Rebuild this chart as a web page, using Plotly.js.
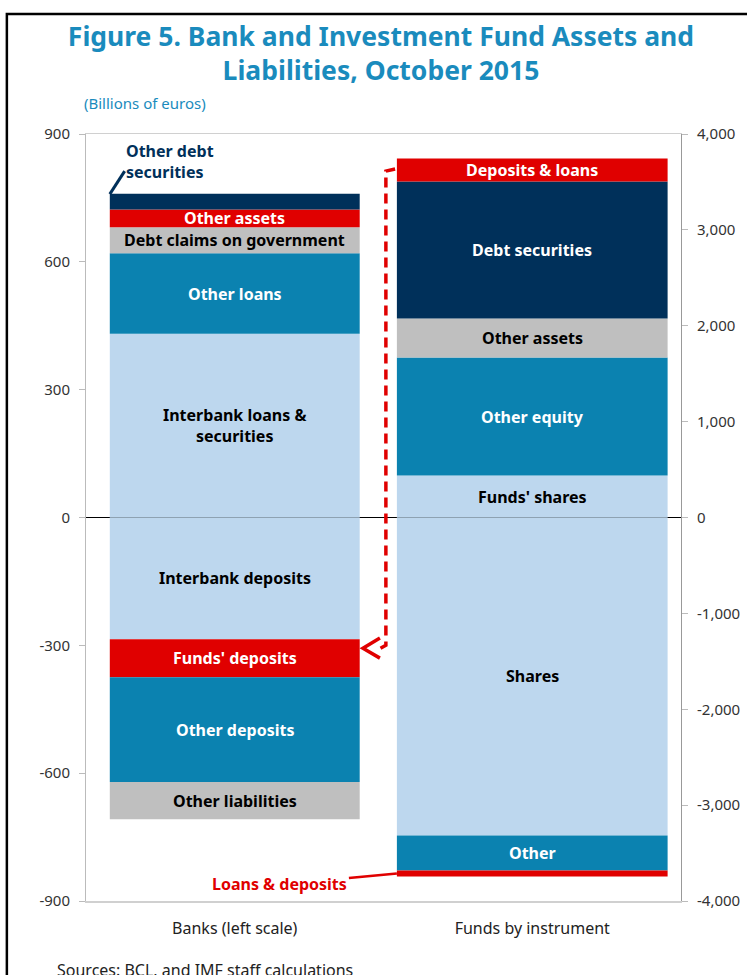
<!DOCTYPE html>
<html>
<head>
<meta charset="utf-8">
<script src="https://cdn.plot.ly/plotly-3.0.1.min.js"></script>
<style>
  body { margin: 0; background: #fff; }
  #chart { width: 747px; height: 975px; }
</style>
</head>
<body>
<div id="chart"></div>
<script>
// categories
var categories = ['Banks (left scale)', 'Funds by instrument'];

// banks, billions of euros (left scale)
var bankItems = ['Interbank loans & securities', 'Other loans', 'Debt claims on government',
                 'Other assets', 'Other debt securities',
                 'Interbank deposits', "Funds' deposits", 'Other deposits', 'Other liabilities'];
var bankValues = [431, 189, 61, 42, 37, -286, -89, -246, -87];

// investment funds, billions of euros (right scale)
var fundItems = ["Funds' shares", 'Other equity', 'Other assets', 'Debt securities', 'Deposits & loans',
                 'Shares', 'Other', 'Loans & deposits'];
var fundValues = [438, 1230, 407, 1429, 240, -3316, -365, -63];

// tick labels
var leftTicks = [-900, -600, -300, 0, 300, 600, 900];
var leftTickText = ['-900', '-600', '-300', '0', '300', '600', '900'];
var rightTicks = [-4000, -3000, -2000, -1000, 0, 1000, 2000, 3000, 4000];
var rightTickText = ['-4,000', '-3,000', '-2,000', '-1,000', '0', '1,000', '2,000', '3,000', '4,000'];

// styles
var NAVY = '#00305a', RED = '#e00000', GREY = '#bfbfbf', TEAL = '#0b82b0', LIGHT = '#bdd7ee';
var bankColors = [LIGHT, TEAL, GREY, RED, NAVY, LIGHT, RED, TEAL, GREY];
var fundColors = [LIGHT, TEAL, GREY, NAVY, RED, LIGHT, TEAL, RED];
var bankLabels = ['Interbank loans &<br>securities', 'Other loans', 'Debt claims on government',
                  'Other assets', null, 'Interbank deposits', "Funds' deposits", 'Other deposits', 'Other liabilities'];
var fundLabels = ["Funds' shares", 'Other equity', 'Other assets', 'Debt securities', 'Deposits & loans',
                  'Shares', 'Other', null];

var FONT = 'Noto Sans, sans-serif';
function textColor(c) { return (c === GREY || c === LIGHT) ? '#000' : '#fff'; }

var traces = [];
var annotations = [];

function addStack(items, values, colors, labels, cat, yaxis, width) {
  var pos = 0, neg = 0;
  for (var i = 0; i < items.length; i++) {
    var v = values[i];
    traces.push({
      type: 'bar', x: [cat], y: [v], name: items[i], yaxis: yaxis, width: width,
      marker: { color: colors[i], line: { width: 0 } }, hoverinfo: 'name+y'
    });
    var mid;
    if (v >= 0) { mid = pos + v / 2; pos += v; } else { mid = neg + v / 2; neg += v; }
    if (labels[i]) {
      annotations.push({
        x: cat, y: mid, xref: 'x', yref: yaxis, text: '<b>' + labels[i] + '</b>', showarrow: false,
        font: { family: FONT, size: 16, color: textColor(colors[i]) }
      });
    }
  }
}

addStack(bankItems, bankValues, bankColors, bankLabels, categories[0], 'y', 0.84);
addStack(fundItems, fundValues, fundColors, fundLabels, categories[1], 'y2', 0.91);

// outside labels
annotations.push({
  x: -0.372, y: 836, xref: 'x', yref: 'y', xanchor: 'left', align: 'left', showarrow: false,
  text: '<b>Other debt<br>securities</b>', font: { family: FONT, size: 16, color: NAVY }
});
annotations.push({
  x: 1 - 0.455, y: -3713, xref: 'x', yref: 'y2', text: '<b>Loans & deposits</b>',
  showarrow: true, arrowhead: 0, arrowwidth: 2.5, arrowcolor: RED, ax: -117, ay: 11,
  font: { family: FONT, size: 16, color: RED }
});
// subtitle and source
annotations.push({
  x: -0.007, y: 1.0404, xref: 'paper', yref: 'paper', xanchor: 'left', yanchor: 'middle', showarrow: false,
  text: '(Billions of euros)', font: { family: FONT, size: 15, color: '#1a8bbd' }
});
annotations.push({
  x: -0.052, y: -0.0905, xref: 'paper', yref: 'paper', xanchor: 'left', yanchor: 'middle', showarrow: false,
  text: 'Sources: BCL, and IMF staff calculations', font: { family: FONT, size: 16, color: '#222' }
});

var shapes = [
  // leader for "Other debt securities"
  { type: 'line', xref: 'x', yref: 'y', x0: -0.42, y0: 759, x1: -0.37, y1: 813,
    line: { color: NAVY, width: 3 } },
  // dashed link from funds' deposits & loans to banks' funds' deposits
  { type: 'path', xref: 'x', yref: 'y', path: 'M 0.539 818 L 0.508 813 L 0.508 -300 L 0.49 -307',
    line: { color: RED, width: 3.5, dash: '10px,6px' } },
  // open arrow head
  { type: 'path', xref: 'x', yref: 'y', path: 'M 0.488 -283 L 0.431 -307 L 0.488 -330',
    line: { color: RED, width: 3.5 } },
  // outer frame
  { type: 'rect', xref: 'paper', yref: 'paper', x0: -0.133, y0: 1.1565, x1: 1.3, y1: -0.2,
    line: { color: '#000', width: 2.5 } }
];

var layout = {
  width: 747, height: 975,
  margin: { l: 86, r: 66, t: 134, b: 74 },
  paper_bgcolor: '#fff', plot_bgcolor: '#fff',
  barmode: 'relative', showlegend: false,
  font: { family: FONT, color: '#222' },
  title: {
    text: '<b>Figure 5. Bank and Investment Fund Assets and<br>Liabilities, October 2015</b>',
    x: 0.51, xref: 'container', y: 0.953, yref: 'container', yanchor: 'middle',
    font: { family: FONT, size: 26.5, color: '#1a8bbd' }
  },
  xaxis: {
    type: 'category', categoryarray: categories, range: [-0.5, 1.5],
    showline: true, mirror: true, linecolor: '#d0d0d0', linewidth: 1.5,
    ticks: '', ticklabelstandoff: 12, tickfont: { family: FONT, size: 16, color: '#222' }
  },
  yaxis: {
    range: [-900, 900], tickvals: leftTicks, ticktext: leftTickText,
    ticks: 'outside', ticklen: 6, tickcolor: '#bbb', ticklabelstandoff: 6,
    showline: true, linecolor: '#bbb', showgrid: false,
    zeroline: true, zerolinecolor: '#000', zerolinewidth: 1,
    tickfont: { family: FONT, size: 15, color: '#333' }
  },
  yaxis2: {
    overlaying: 'y', side: 'right', range: [-4000, 4000],
    tickvals: rightTicks, ticktext: rightTickText,
    ticks: 'outside', ticklen: 6, tickcolor: '#bbb', ticklabelstandoff: 6,
    showline: true, linecolor: '#999', showgrid: false, zeroline: false,
    tickfont: { family: FONT, size: 15, color: '#333' }
  },
  annotations: annotations,
  shapes: shapes
};

Plotly.newPlot('chart', traces, layout, { displayModeBar: false, staticPlot: true });
</script>
</body>
</html>
